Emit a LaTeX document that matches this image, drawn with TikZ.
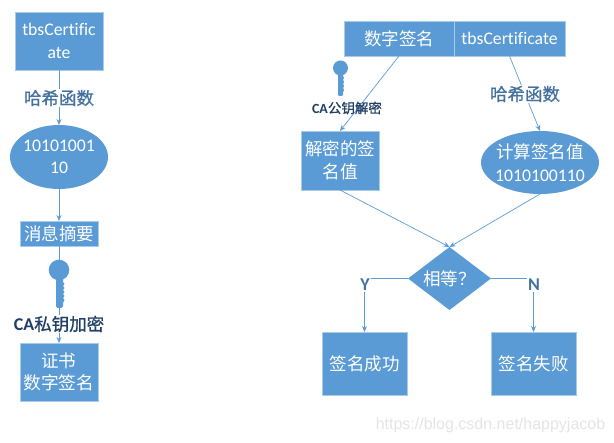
\documentclass[tikz,border=0pt]{standalone}
\usepackage{fontspec}
\usetikzlibrary{shapes.geometric,arrows.meta}
\setmainfont[Ligatures={NoCommon,NoDiscretionary,NoRare}]{Carlito}
\newfontfamily\cjk{Noto Sans CJK SC}
\newfontfamily\cjkm[FakeBold=0.8]{Noto Sans CJK SC}
\definecolor{boxblue}{HTML}{5B9BD5}
\definecolor{edgeblue}{HTML}{A9CBE9}
\definecolor{labblue}{HTML}{44729F}
\definecolor{labdark}{HTML}{1F3F66}
\definecolor{wm}{HTML}{E4E4E4}
\tikzset{
  x=1pt,y=-1pt,
  shapebase/.style={fill=boxblue,draw=edgeblue,line width=0.4pt,text=white,align=center,inner sep=0pt,outer sep=0pt,font=\fontsize{17.7}{22.5}\selectfont},
  rectbox/.style={shapebase,rectangle,minimum width=#1},
  ovalbox/.style={shapebase,ellipse,draw=none,inner xsep=-14pt,inner ysep=-8pt},
  diabox/.style={shapebase,diamond,draw=none,inner xsep=-14pt,inner ysep=-8pt},
  conn/.style={draw=boxblue,line width=0.7pt,-{Stealth[length=6pt,width=5pt]}},
  lab/.style={fill=white,inner sep=1pt,text=labblue,font=\fontsize{18}{20}\selectfont\bfseries},
  keyshape/.style={fill=boxblue,draw=none},
}
\begin{document}
\begin{tikzpicture}
\useasboundingbox (0,0) rectangle (614,443);
% left column
\node[rectbox=88pt,minimum height=58pt] (tbs) at (59,41) {tbsCertific\\ate};
\node[ovalbox,minimum width=98pt,minimum height=64pt] (hash) at (59,157) {10101001\\10};
\node[rectbox=78pt,minimum height=25pt] (digest) at (59,233.5) {\cjk\fontsize{17.5}{23}\selectfont 消息摘要};
\node[rectbox=78pt,minimum height=58pt] (cert) at (59,372) {\cjk\fontsize{17.5}{25}\selectfont 证书\\\cjk 数字签名};
% right column
\node[rectbox=110pt,minimum height=35pt] (sigL) at (399,38.5) {\cjk\fontsize{17.5}{23}\selectfont 数字签名};
\node[rectbox=111pt,minimum height=35pt] (sigR) at (509.5,38.5) {tbsCertificate};
\node[rectbox=78pt,minimum height=59pt] (dec) at (340,160.5) {\cjk\fontsize{17.5}{25}\selectfont 解密的签\\\cjk 名值};
\node[ovalbox,minimum width=118pt,minimum height=63pt] (calc) at (540,162.5) {\cjk\fontsize{17.5}{23}\selectfont 计算签名值\\\normalfont\fontsize{17.7}{23}\selectfont 1010100110};
\node[diabox,minimum width=83pt,minimum height=63pt] (eq) at (449.5,278.5) {\cjk\fontsize{17.5}{23}\selectfont 相等？};
\node[rectbox=85pt,minimum height=63pt] (yes) at (364.5,363.5) {\cjk\fontsize{17.5}{23}\selectfont 签名成功};
\node[rectbox=85pt,minimum height=63pt] (no) at (533.5,363.5) {\cjk\fontsize{17.5}{23}\selectfont 签名失败};
% connectors
\draw[conn] (tbs) -- (hash);
\draw[conn] (hash) -- (digest);
\draw[conn] (digest) -- (cert);
\draw[conn] (sigL.south) -- (dec.north);
\draw[conn] (sigR.south) -- (calc.north);
\draw[conn] (dec.south) -- (eq.north);
\draw[conn] (calc.south) -- (eq.north);
\draw[conn] (eq.west) -| (yes.north);
\draw[conn] (eq.east) -| (no.north);
% labels
\node[lab] (lh1) at (59,98) {\cjkm\mdseries\fontsize{17.5}{20}\selectfont 哈希函数};
\node[lab] (lh2) at (525,94) {\cjkm\mdseries\fontsize{17.5}{20}\selectfont 哈希函数};
\node[lab,text=labdark] (lca1) at (59,324) {CA\cjkm\mdseries\fontsize{17.5}{20}\selectfont 私钥加密};
\node[lab,fill=none,text=labdark,font=\fontsize{14}{16}\selectfont\bfseries] (lca2) at (347,108) {CA\cjkm\mdseries\fontsize{13.5}{16}\selectfont 公钥解密};
\node[lab,font=\fontsize{18}{20}\selectfont\bfseries] (ly) at (365,285) {Y};
\node[lab,font=\fontsize{18}{20}\selectfont\bfseries] (ln) at (534,285) {N};
% keys
\fill[keyshape] (59,270) circle (10.3);
\fill[keyshape,rounded corners=1.5pt] (56,277) rectangle (63,308);
\fill[keyshape] (63,282) -- (64.5,284) -- (63,286) -- (64.5,288) -- (63,290) -- (64.5,292) -- (63,294) -- (64.5,296) -- (63,298) -- (64.5,300) -- (63,303) -- cycle;
\fill[keyshape] (340.5,68) circle (7.5);
\fill[keyshape,rounded corners=1pt] (338,72) rectangle (343,96);
\fill[keyshape] (343,76) -- (344,78) -- (343,80) -- (344,82) -- (343,84) -- (344,86) -- (343,88) -- (344,90) -- (343,92) -- cycle;
% watermark
\node[text=wm,inner sep=0pt,font=\fontsize{16}{20}\selectfont\fontspec{Liberation Sans}] (mark) at (490.5,425) {https://blog.csdn.net/happyjacob};
\end{tikzpicture}
\end{document}
